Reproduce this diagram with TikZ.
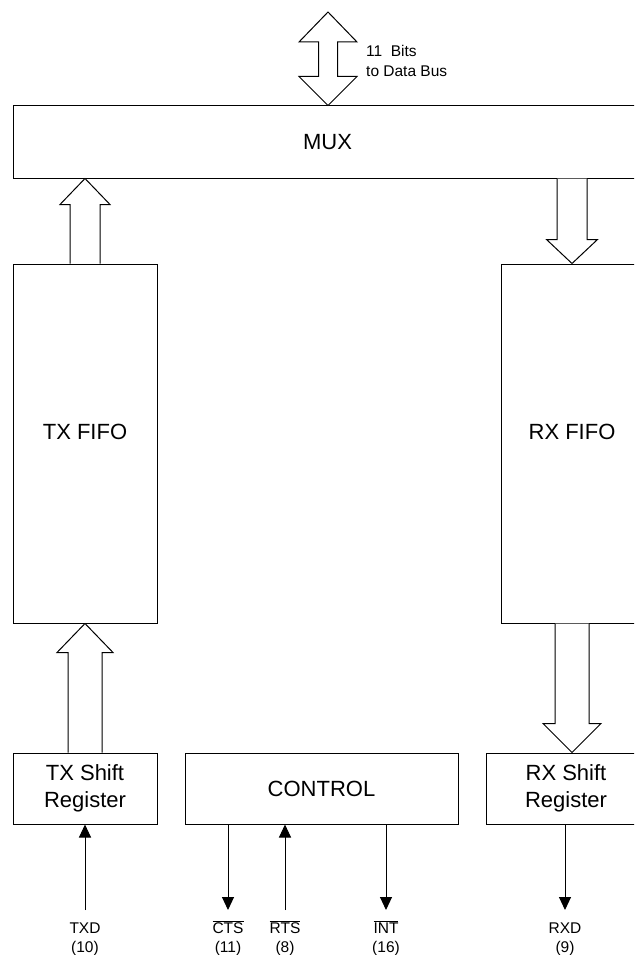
\documentclass[tikz,border=0pt]{standalone}
\usepackage{fontspec}
\setmainfont{Liberation Sans}
\usetikzlibrary{arrows.meta,calc}
\newcommand{\fatarrow}[5]{% #1 base coord, #2 tip coord, #3 half shaft, #4 half head, #5 signed head length
  \draw[blk] let \p1=(#1), \p2=(#2) in
    ({\x1-#3},\y1) -- ({\x1-#3},{\y2+#5}) -- ({\x1-#4},{\y2+#5}) -- (\x1,\y2)
    -- ({\x1+#4},{\y2+#5}) -- ({\x1+#3},{\y2+#5}) -- ({\x1+#3},\y1);}
\begin{document}
\begin{tikzpicture}[x=1pt,y=-1pt,
  box/.style={draw,line width=1pt,rectangle,inner sep=0pt,
    font=\fontsize{22}{27}\selectfont,align=center},
  blk/.style={draw,line width=1pt,line join=miter,fill=white},
  sig/.style={line width=1pt,-{Triangle[width=12pt,length=13pt]}},
  pin/.style={font=\fontsize{15.5}{19}\selectfont,align=center,inner sep=0pt}]
\useasboundingbox (0,0) rectangle (634,955);
\clip (0,0) rectangle (634,955);
% boxes
\node[box,minimum width=628pt,minimum height=72pt] (mux) at (327.5,142) {MUX};
\node[box,minimum width=144pt,minimum height=359pt] (txfifo) at (85,443.5) {\raisebox{24pt}{TX FIFO}};
\node[box,minimum width=142pt,minimum height=359pt] (rxfifo) at (572,443.5) {\raisebox{24pt}{RX FIFO}};
\node[box,minimum width=144pt,minimum height=71pt] (txshift) at (85,788.5) {TX Shift\\Register};
\node[box,minimum width=273pt,minimum height=71pt] (control) at (321.5,788.5) {CONTROL};
\node[box,minimum width=160pt,minimum height=71pt] (rxshift) at (566,788.5) {RX Shift\\Register};
% block arrows
\fatarrow{txfifo.north}{txfifo.north |- mux.south}{15pt}{25pt}{-26pt}
\fatarrow{rxfifo.north |- mux.south}{rxfifo.north}{15pt}{25.5pt}{24pt}
\fatarrow{txshift.north}{txfifo.south}{17pt}{28pt}{-29pt}
\fatarrow{rxfifo.south}{rxfifo.south |- rxshift.north}{17pt}{29pt}{29pt}
% data bus double arrow
\coordinate (bus) at (328,12);
\draw[blk] let \p1=(bus), \p2=(bus |- mux.north) in
  (\x1,\y1) -- ({\x1+29pt},{\y1-30pt}) -- ({\x1+9.5pt},{\y1-30pt}) -- ({\x1+9.5pt},{\y2+29pt})
  -- ({\x1+29pt},{\y2+29pt}) -- (\x1,\y2) -- ({\x1-29pt},{\y2+29pt}) -- ({\x1-9.5pt},{\y2+29pt})
  -- ({\x1-9.5pt},{\y1-30pt}) -- ({\x1-29pt},{\y1-30pt}) -- cycle;
\node[pin,anchor=west,align=left,font=\fontsize{15.5}{20}\selectfont] (buslbl) at (366,60.5) {11\ \ Bits\\to Data Bus};
% signal pins
\coordinate (txdp) at (85,910);
\coordinate (ctsp) at (228,910);
\coordinate (rtsp) at (285,910);
\coordinate (intp) at (386,910);
\coordinate (rxdp) at (565,910);
\draw[sig] (txdp) -- (txshift.south);
\draw[sig] (control.south -| ctsp) -- (ctsp);
\draw[sig] (rtsp) -- (control.south -| rtsp);
\draw[sig] (control.south -| intp) -- (intp);
\draw[sig] (rxshift.south -| rxdp) -- (rxdp);
\node[pin,anchor=north] (txdl) at (85,921.5) {\rule{0pt}{12pt}TXD\\(10)};
\node[pin,anchor=north] (ctsl) at (228,921.5) {\rule{0pt}{12pt}\smash{$\overline{\hbox{CTS}}$}\\(11)};
\node[pin,anchor=north] (rtsl) at (285,921.5) {\rule{0pt}{12pt}\smash{$\overline{\hbox{RTS}}$}\\(8)};
\node[pin,anchor=north] (intl) at (386,921.5) {\rule{0pt}{12pt}\smash{$\overline{\hbox{INT}}$}\\(16)};
\node[pin,anchor=north] (rxdl) at (565,921.5) {\rule{0pt}{12pt}RXD\\(9)};
\end{tikzpicture}
\end{document}
